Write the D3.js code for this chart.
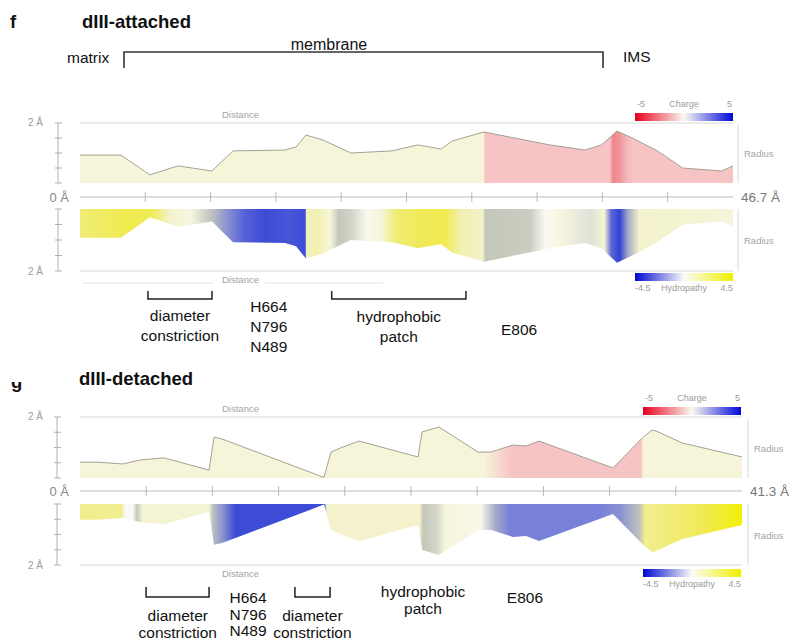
<!DOCTYPE html>
<html>
<head>
<meta charset="utf-8">
<script src="https://cdn.jsdelivr.net/npm/d3@7"></script>
<style>
  body { margin: 0; background: #ffffff; }
  svg { display: block; font-family: "Liberation Sans", Arial, Helvetica, sans-serif; }
</style>
</head>
<body>
<svg id="chart" width="800" height="643"></svg>
<script>
// ---------------- data: dIII-attached (panel f) ----------------
const fLength = 46.7;                       // pore length, Å
const fRadiusDist = [0, 2.93, 5.0, 7.0, 9.44, 10.94, 14.66, 15.45, 16.16, 17.38, 19.38, 22.31, 24.17, 25.82, 26.6, 28.89, 33.6, 36.1, 37.3, 38.4, 39.5, 41.3, 43.1, 45.9, 46.7];
const fRadius     = [0.93, 0.93, 0.27, 0.57, 0.40, 1.07, 1.10, 1.20, 1.60, 1.43, 1.00, 1.07, 1.27, 1.13, 1.40, 1.70, 1.27, 1.10, 1.27, 1.73, 1.50, 1.07, 0.50, 0.40, 0.57];
const fChargeDist = [0, 28.85, 28.95, 37.9, 38.1, 38.6, 39.2, 39.6, 46.7];
const fCharge     = [0, 0, -1, -1, -2.3, -2.0, -1.2, -1, -1];
const fHydroDist  = [0, 3.5, 5.2, 6.4, 7.9, 8.9, 9.5, 10.4, 11.8, 13.2, 15.0, 16.1, 16.2, 17.0, 17.9, 18.5, 19.4, 20.5, 21.5, 22.6, 24.3, 26.1, 27.2, 28.8, 29.0, 32.2, 33.3, 34.3, 36.5, 37.5, 38.0, 38.6, 39.2, 40.0, 44.3, 46.7];
const fHydro      = [2.5, 3.2, 3.0, 1.0, 0.5, -0.3, -0.6, -1.5, -2.6, -3.0, -2.8, -3.0, 1.2, 1.5, 0.6, -0.4, -0.3, 0.2, 0.6, 2.5, 3.0, 3.2, 1.5, 1.0, -0.4, -0.35, 0, 0.5, -0.2, 0.8, -2.5, -3.5, -1, 1, 0.8, 0.6];

// ---------------- data: dIII-detached (panel g) ----------------
const gLength = 41.3;
const gRadiusDist = [0, 1.06, 2.68, 3.74, 5.24, 8.05, 8.36, 8.86, 15.22, 15.66, 16.22, 17.41, 21.09, 21.34, 22.40, 24.83, 25.64, 27.01, 27.83, 28.64, 33.25, 35.13, 35.69, 35.94, 37.56, 41.3];
const gRadius     = [0.52, 0.52, 0.46, 0.59, 0.66, 0.26, 1.34, 1.28, 0.02, 0.85, 0.98, 1.21, 0.69, 1.51, 1.67, 0.85, 0.85, 1.08, 1.05, 1.21, 0.33, 1.34, 1.57, 1.54, 1.15, 0.69];
const gChargeDist = [0, 25.2, 26.9, 35.0, 35.15, 41.3];
const gCharge     = [0, 0, -1, -1, 0, 0];
const gHydroDist  = [0, 2.6, 2.8, 3.3, 3.55, 3.9, 8.05, 8.3, 8.86, 9.7, 15.2, 15.4, 21.2, 21.4, 22.2, 22.8, 25.0, 25.9, 26.8, 32.4, 33.7, 34.9, 35.25, 38.7, 41.3];
const gHydro      = [2.0, 2.0, 0, 0, -0.4, 0.8, 0.8, -0.6, -1.5, -3.0, -3.0, 1.0, 1.0, -0.4, -0.3, 0.6, 0.3, -1.0, -2.0, -2.0, -1.6, -0.5, 2.0, 3.0, 4.5];

// ---------------- annotations (positions in Å along the pore) ----------------
const fBrackets = [[4.86, 9.44], [18.0, 27.6]];
const fNotes = [
  { at: 7.15,  lines: ["diameter", "constriction"] },
  { at: 13.5,  lines: ["H664", "N796", "N489"] },
  { at: 22.8,  lines: ["hydrophobic", "patch"] },
  { at: 31.4,  lines: ["E806"] }
];
const gBrackets = [[4.12, 8.05], [13.41, 15.6]];
const gNotes = [
  { at: 6.1,   lines: ["diameter", "constriction"] },
  { at: 10.48, lines: ["H664", "N796", "N489"] },
  { at: 14.5,  lines: ["diameter", "constriction"] },
  { at: 21.4,  lines: ["hydrophobic", "patch"] },
  { at: 27.76, lines: ["E806"] }
];

const chargeTicks = ["-5", "Charge", "5"];
const hydroTicks = ["-4.5", "Hydropathy", "4.5"];
const radiusTicks = [0, 0.5, 1, 1.5, 2];

// ---------------- colour scales ----------------
const chargeLegend = d3.scaleLinear().domain([-5, 0, 5]).range(["#e8001c", "#fbf9f2", "#0008d8"]);
const hydroLegend  = d3.scaleLinear().domain([-4.5, 0, 4.5]).range(["#0008d0", "#fbfbf8", "#f0f000"]);
const chargeFill = d3.scaleLinear().domain([-5, -2, -1, 0, 1, 5])
  .range(["#e8001c", "#f0969a", "#f6c4c5", "#f7f5d9", "#d0d0f0", "#0008d8"]);
const hydroFill = d3.scaleLinear().domain([-4.5, -3, -2, -1, -0.4, 0, 1, 2, 3, 4.5])
  .range(["#2030d0", "#3c4cd6", "#7880d8", "#a6abc8", "#c5c7ba", "#fafaf4", "#f3f2cc", "#f1ee90", "#efea5a", "#f3ef0a"]);

const svg = d3.select("#chart");
const defs = svg.append("defs");
const GREY = "#9c9c9c";

function gradient(id, dist, vals, length, color, x) {
  const g = defs.append("linearGradient").attr("id", id)
    .attr("gradientUnits", "userSpaceOnUse")
    .attr("x1", x(0)).attr("x2", x(length)).attr("y1", 0).attr("y2", 0);
  g.selectAll("stop").data(d3.zip(dist, vals)).join("stop")
    .attr("offset", d => d[0] / length)
    .attr("stop-color", d => color(d[1]));
}

function legendGradient(id, scale, domain) {
  const g = defs.append("linearGradient").attr("id", id);
  const vals = d3.range(0, 11).map(i => domain[0] + (domain[1] - domain[0]) * i / 10);
  g.selectAll("stop").data(vals).join("stop")
    .attr("offset", (d, i) => i / 10)
    .attr("stop-color", d => scale(d));
}
legendGradient("legend-charge", chargeLegend, [-5, 5]);
legendGradient("legend-hydro", hydroLegend, [-4.5, 4.5]);

function text(x, y, str, size, opts = {}) {
  return svg.append("text").attr("x", x).attr("y", y).text(str)
    .attr("font-size", size)
    .attr("fill", opts.fill || "#111")
    .attr("font-weight", opts.bold ? "bold" : null)
    .attr("text-anchor", opts.anchor || "start");
}

function drawPanel(p) {
  const x = d3.scaleLinear().domain([0, p.length]).range([p.x0, p.x1]);
  const yTop = d3.scaleLinear().domain([0, 2]).range([p.topBase, p.topMax]);
  const yBot = d3.scaleLinear().domain([0, 2]).range([p.botBase, p.botMax]);

  gradient(p.id + "-charge", p.chargeDist, p.charge, p.length, chargeFill, x);
  gradient(p.id + "-hydro", p.hydroDist, p.hydro, p.length, hydroFill, x);

  const pts = d3.zip(p.radiusDist, p.radius);

  // upper profile: radius coloured by charge
  svg.append("path").datum(pts)
    .attr("d", d3.area().x(d => x(d[0])).y0(yTop(0)).y1(d => yTop(d[1])))
    .attr("fill", `url(#${p.id}-charge)`);
  svg.append("path").datum(pts)
    .attr("d", d3.line().x(d => x(d[0])).y(d => yTop(d[1])))
    .attr("fill", "none").attr("stroke", "#9a978a").attr("stroke-width", 0.9);

  // lower mirrored profile: radius coloured by hydropathy
  svg.append("path").datum(pts)
    .attr("d", d3.area().x(d => x(d[0])).y0(yBot(0)).y1(d => yBot(d[1])))
    .attr("fill", `url(#${p.id}-hydro)`);

  // frames
  const frame = svg.append("g").attr("stroke", "#d4d4d4").attr("stroke-width", 0.9);
  frame.append("line").attr("x1", p.x0).attr("x2", p.x1).attr("y1", yTop(2)).attr("y2", yTop(2));
  frame.append("line").attr("x1", p.x0).attr("x2", p.x1).attr("y1", yBot(2)).attr("y2", yBot(2));
  frame.append("line").attr("x1", p.rightX).attr("x2", p.rightX).attr("y1", yTop(2) + 2).attr("y2", yTop(0));
  frame.append("line").attr("x1", p.rightX).attr("x2", p.rightX).attr("y1", yBot(0)).attr("y2", yBot(2));

  // radius axes on the left
  const ax = svg.append("g").attr("stroke", "#a8a8a8").attr("stroke-width", 0.9);
  [yTop, yBot].forEach(y => {
    ax.append("line").attr("x1", p.axisX).attr("x2", p.axisX).attr("y1", y(0)).attr("y2", y(2));
    ax.selectAll(null).data(radiusTicks).join("line")
      .attr("x1", p.axisX - 3).attr("x2", p.axisX + 4)
      .attr("y1", d => y(d)).attr("y2", d => y(d));
  });
  text(43, yTop(2) + 3, "2 Å", 10, { fill: GREY, anchor: "end" });
  text(43, yBot(2) + 4, "2 Å", 10, { fill: GREY, anchor: "end" });

  // distance axis
  const dx = svg.append("g").attr("stroke", "#b4b4b4").attr("stroke-width", 0.9);
  dx.append("line").attr("x1", x(0)).attr("x2", x(p.length)).attr("y1", p.axisY).attr("y2", p.axisY);
  dx.selectAll(null).data(d3.range(1, 10).map(i => i * p.length / 10)).join("line")
    .attr("x1", d => x(d)).attr("x2", d => x(d))
    .attr("y1", p.axisY - 5).attr("y2", p.axisY + 5);
  text(69, p.axisY + 5, "0 Å", 13, { fill: "#888", anchor: "end" });
  text(x(p.length) + 8, p.axisY + 5, `${p.length} Å`, 13.5, { fill: "#777" });

  // small axis titles
  text(222, yTop(2) - 5, "Distance", 9.5, { fill: "#a4a4a4" });
  text(222, yBot(2) + 12, "Distance", 9.5, { fill: "#a4a4a4" });
  text(p.rightX + 6, (yTop(0) + yTop(2)) / 2 + 4, "Radius", 9.5, { fill: "#a4a4a4" });
  text(p.rightX + 6, (yBot(0) + yBot(2)) / 2 + 4, "Radius", 9.5, { fill: "#a4a4a4" });

  // colour legends
  svg.append("rect").attr("x", p.legX).attr("y", p.chargeY).attr("width", 98).attr("height", 8)
    .attr("fill", "url(#legend-charge)");
  text(p.legX + 2, p.chargeY - 6, chargeTicks[0], 9, { fill: GREY });
  text(p.legX + 49, p.chargeY - 6, chargeTicks[1], 9, { fill: GREY, anchor: "middle" });
  text(p.legX + 97, p.chargeY - 6, chargeTicks[2], 9, { fill: GREY, anchor: "end" });

  svg.append("rect").attr("x", p.legX).attr("y", p.hydroY).attr("width", 98).attr("height", 8)
    .attr("fill", "url(#legend-hydro)");
  text(p.legX, p.hydroY + 18, hydroTicks[0], 9, { fill: GREY });
  text(p.legX + 49, p.hydroY + 18, hydroTicks[1], 9, { fill: GREY, anchor: "middle" });
  text(p.legX + 98, p.hydroY + 18, hydroTicks[2], 9, { fill: GREY, anchor: "end" });

  // annotation brackets and labels below the profile
  const br = svg.append("g").attr("stroke", "#222").attr("stroke-width", 1.5).attr("fill", "none");
  p.brackets.forEach(([a, b]) => {
    br.append("path").attr("d",
      `M${x(a)},${p.brTop}V${p.brBot}H${x(b)}V${p.brTop}`);
  });
  p.notes.forEach(n => {
    const base = n.lines.length === 3 ? p.noteY3 : n.lines.length === 2
      ? (n.lines[0] === "hydrophobic" ? p.noteYh : p.noteY2) : p.noteY1;
    n.lines.forEach((s, i) => {
      text(x(n.at), base + i * p.lineGap, s, 15.5, { anchor: "middle" });
    });
  });
}

// ---------------- panel f ----------------
text(10, 28, "f", 18.5, { bold: true });
text(82, 28, "dIII-attached", 18.5, { bold: true });
text(67, 63, "matrix", 15.5);
text(329, 50, "membrane", 16, { anchor: "middle" });
text(623, 62, "IMS", 15.5);
svg.append("path").attr("d", "M124,68V52H603V68")
  .attr("fill", "none").attr("stroke", "#333").attr("stroke-width", 1.6);

drawPanel({
  id: "f", length: fLength,
  radiusDist: fRadiusDist, radius: fRadius,
  chargeDist: fChargeDist, charge: fCharge,
  hydroDist: fHydroDist, hydro: fHydro,
  x0: 80, x1: 733, topBase: 183, topMax: 123, botBase: 209, botMax: 271,
  axisY: 197, axisX: 58, rightX: 738,
  legX: 635, chargeY: 113, hydroY: 273,
  brackets: fBrackets, notes: fNotes,
  brTop: 291, brBot: 299, lineGap: 20,
  noteY3: 312, noteY2: 321, noteYh: 322, noteY1: 335
});
// faint guide lines flanking the lower "Distance" title
svg.append("g").attr("stroke", "#e2e2e2").attr("stroke-width", 0.9)
  .selectAll("line").data([[82, 214], [265, 383]]).join("line")
  .attr("x1", d => d[0]).attr("x2", d => d[1]).attr("y1", 283).attr("y2", 283);

// ---------------- panel g ----------------
defs.append("clipPath").attr("id", "clip-g").append("rect")
  .attr("x", 0).attr("y", 382).attr("width", 40).attr("height", 20);
text(11, 388, "g", 18.5, { bold: true }).attr("clip-path", "url(#clip-g)");
text(79, 385, "dIII-detached", 18.5, { bold: true });

drawPanel({
  id: "g", length: gLength,
  radiusDist: gRadiusDist, radius: gRadius,
  chargeDist: gChargeDist, charge: gCharge,
  hydroDist: gHydroDist, hydro: gHydro,
  x0: 80, x1: 742, topBase: 478, topMax: 417, botBase: 504, botMax: 565,
  axisY: 491, axisX: 57, rightX: 748,
  legX: 643, chargeY: 407, hydroY: 569,
  brackets: gBrackets, notes: gNotes,
  brTop: 587, brBot: 597, lineGap: 16.5,
  noteY3: 603, noteY2: 621, noteYh: 597, noteY1: 603
});
</script>
</body>
</html>
